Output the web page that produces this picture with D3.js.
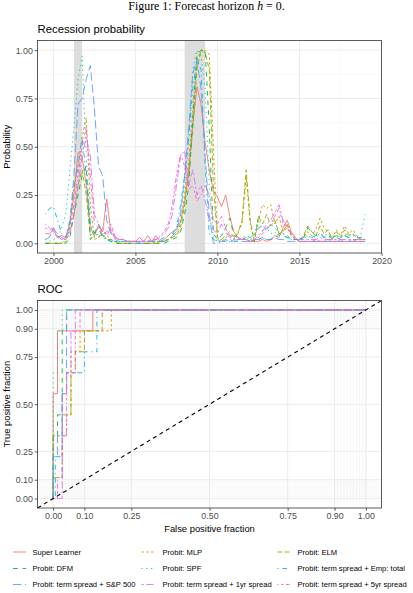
<!DOCTYPE html>
<html><head><meta charset="utf-8">
<script src="https://cdn.jsdelivr.net/npm/d3@7"></script>
<style>body{margin:0;background:#fff} svg{display:block}</style>
</head><body><svg id="c" width="413" height="593"></svg>
<script>
// ---------------- DATA ----------------
const quarters = [1999.50,1999.75,2000.00,2000.25,2000.50,2000.75,2001.00,2001.25,2001.50,2001.75,
2002.00,2002.25,2002.50,2002.75,2003.00,2003.25,2003.50,2003.75,2004.00,2004.25,
2004.50,2004.75,2005.00,2005.25,2005.50,2005.75,2006.00,2006.25,2006.50,2006.75,
2007.00,2007.25,2007.50,2007.75,2008.00,2008.25,2008.50,2008.75,2009.00,2009.25,
2009.50,2009.75,2010.00,2010.25,2010.50,2010.75,2011.00,2011.25,2011.50,2011.75,
2012.00,2012.25,2012.50,2012.75,2013.00,2013.25,2013.50,2013.75,2014.00,2014.25,
2014.50,2014.75,2015.00,2015.25,2015.50,2015.75,2016.00,2016.25,2016.50,2016.75,
2017.00,2017.25,2017.50,2017.75,2018.00,2018.25,2018.50,2018.75,2019.00];

const recessions = [[2001.25, 2001.75], [2008.0, 2009.25]];

const seriesNames = ["Super Learner","Probit: MLP","Probit: ELM","Probit: DFM","Probit: SPF",
  "Probit: term spread + Emp: total","Probit: term spread + S&P 500",
  "Probit: term spread + 1yr spread","Probit: term spread + 5yr spread"];

const probSuperLearner = [0.05,0.05,0.07,0.03,0.04,0.03,0.10,0.25,0.47,0.45,
0.30,0.08,0.04,0.09,0.06,0.23,0.06,0.03,0.02,0.02,
0.01,0.01,0.01,0.03,0.01,0.04,0.01,0.04,0.01,0.02,
0.04,0.06,0.07,0.11,0.22,0.38,0.62,0.81,0.72,0.52,
0.38,0.27,0.24,0.19,0.25,0.14,0.06,0.03,0.02,0.02,
0.01,0.01,0.01,0.02,0.01,0.02,0.04,0.03,0.08,0.12,
0.06,0.03,0.01,0.01,0.01,0.01,0.01,0.01,0.01,0.01,
0.01,0.01,0.01,0.01,0.01,0.01,0.01,0.01,0.01];
const probMLP = [0.00,0.00,0.00,0.00,0.00,0.01,0.08,0.28,0.40,0.55,
0.65,0.20,0.02,0.03,0.08,0.04,0.02,0.01,0.00,0.00,
0.00,0.00,0.00,0.00,0.00,0.00,0.00,0.00,0.01,0.01,
0.02,0.03,0.05,0.10,0.25,0.42,0.70,0.95,1.00,1.00,
0.98,0.50,0.02,0.01,0.03,0.04,0.02,0.06,0.10,0.34,
0.10,0.01,0.12,0.20,0.18,0.20,0.10,0.14,0.06,0.08,
0.04,0.02,0.01,0.03,0.06,0.04,0.07,0.13,0.08,0.06,
0.03,0.07,0.04,0.09,0.05,0.07,0.04,0.02,0.02];
const probELM = [0.00,0.00,0.00,0.00,0.00,0.02,0.05,0.15,0.30,0.38,
0.25,0.04,0.06,0.03,0.05,0.02,0.02,0.01,0.00,0.00,
0.00,0.00,0.00,0.00,0.00,0.00,0.00,0.01,0.01,0.01,
0.02,0.03,0.04,0.08,0.20,0.35,0.60,0.90,1.00,0.99,
0.90,0.30,0.03,0.02,0.04,0.06,0.03,0.05,0.12,0.38,
0.12,0.01,0.14,0.10,0.15,0.09,0.12,0.05,0.06,0.10,
0.05,0.02,0.02,0.04,0.09,0.06,0.04,0.09,0.05,0.07,
0.02,0.06,0.03,0.07,0.04,0.05,0.03,0.02,0.02];
const probDFM = [0.00,0.00,0.00,0.00,0.00,0.00,0.03,0.15,0.25,0.35,
0.40,0.02,0.05,0.10,0.04,0.02,0.01,0.00,0.00,0.00,
0.00,0.00,0.00,0.00,0.00,0.00,0.00,0.00,0.00,0.00,
0.01,0.02,0.03,0.06,0.15,0.30,0.65,0.98,1.00,1.00,
0.60,0.05,0.02,0.04,0.08,0.13,0.04,0.03,0.02,0.03,
0.02,0.01,0.02,0.03,0.02,0.02,0.03,0.05,0.04,0.03,
0.02,0.02,0.02,0.03,0.08,0.06,0.04,0.05,0.03,0.04,
0.02,0.03,0.02,0.04,0.03,0.02,0.02,0.02,0.02];
const probSPF = [0.02,0.01,0.02,0.03,0.08,0.15,0.37,0.60,0.85,0.97,
0.45,0.10,0.03,0.05,0.04,0.02,0.02,0.01,0.01,0.01,
0.01,0.01,0.01,0.01,0.01,0.01,0.01,0.01,0.01,0.02,
0.02,0.04,0.08,0.15,0.30,0.55,0.90,1.00,0.97,0.80,
0.30,0.03,0.01,0.02,0.01,0.01,0.01,0.02,0.02,0.03,
0.02,0.04,0.14,0.06,0.08,0.05,0.06,0.04,0.05,0.03,
0.02,0.02,0.02,0.03,0.03,0.04,0.03,0.05,0.04,0.05,
0.03,0.04,0.03,0.05,0.04,0.05,0.03,0.05,0.15];
const probEmpTotal = [0.15,0.18,0.19,0.12,0.05,0.03,0.12,0.30,0.40,0.55,
0.35,0.10,0.05,0.08,0.03,0.02,0.01,0.01,0.01,0.01,
0.01,0.01,0.01,0.01,0.01,0.01,0.01,0.02,0.02,0.03,
0.04,0.05,0.08,0.20,0.35,0.55,0.80,0.95,0.90,0.40,
0.05,0.02,0.01,0.01,0.02,0.01,0.01,0.02,0.03,0.04,
0.03,0.05,0.08,0.09,0.07,0.10,0.08,0.06,0.05,0.04,
0.02,0.02,0.02,0.03,0.04,0.03,0.04,0.05,0.03,0.04,
0.03,0.04,0.03,0.04,0.03,0.04,0.03,0.03,0.04];
const probSP500 = [0.02,0.03,0.08,0.04,0.02,0.03,0.10,0.35,0.72,0.75,
0.85,0.92,0.70,0.40,0.35,0.12,0.05,0.02,0.01,0.01,
0.01,0.01,0.00,0.00,0.00,0.01,0.01,0.01,0.01,0.01,
0.02,0.04,0.06,0.15,0.35,0.60,0.88,0.95,0.80,0.45,
0.15,0.00,0.00,0.01,0.01,0.02,0.01,0.01,0.01,0.01,
0.01,0.02,0.02,0.03,0.02,0.02,0.03,0.02,0.02,0.01,
0.01,0.01,0.01,0.01,0.01,0.01,0.01,0.01,0.01,0.01,
0.01,0.01,0.01,0.01,0.01,0.01,0.01,0.01,0.01];
const prob1yr = [0.08,0.07,0.08,0.05,0.03,0.02,0.05,0.15,0.30,0.45,
0.55,0.45,0.15,0.10,0.06,0.04,0.08,0.03,0.02,0.02,
0.01,0.01,0.01,0.01,0.01,0.01,0.01,0.02,0.03,0.05,
0.08,0.15,0.30,0.45,0.48,0.30,0.38,0.25,0.30,0.22,
0.12,0.07,0.05,0.10,0.06,0.03,0.02,0.02,0.02,0.02,
0.01,0.02,0.04,0.06,0.10,0.12,0.16,0.20,0.12,0.08,
0.05,0.02,0.02,0.02,0.02,0.02,0.02,0.03,0.02,0.02,
0.02,0.02,0.02,0.02,0.02,0.02,0.02,0.02,0.02];
const prob5yr = [0.10,0.08,0.06,0.03,0.02,0.02,0.08,0.20,0.35,0.50,
0.60,0.35,0.10,0.08,0.05,0.06,0.10,0.04,0.02,0.02,
0.01,0.01,0.01,0.01,0.01,0.01,0.02,0.02,0.04,0.06,
0.10,0.20,0.35,0.46,0.40,0.28,0.30,0.22,0.25,0.30,
0.25,0.12,0.10,0.14,0.08,0.04,0.03,0.02,0.02,0.02,
0.01,0.02,0.03,0.05,0.08,0.10,0.14,0.18,0.10,0.09,
0.04,0.02,0.01,0.01,0.01,0.01,0.02,0.01,0.01,0.02,
0.01,0.01,0.02,0.01,0.01,0.02,0.01,0.01,0.01];

// ROC curves: [false positive fraction, true positive fraction]
const rocSuperLearner = [[0,0],[0,0.556],[0.014,0.556],[0.014,0.889],[0.127,0.889],[0.127,1],[1,1]];
const rocMLP = [[0,0],[0,0.333],[0.043,0.333],[0.043,0.444],[0.057,0.444],[0.057,0.778],[0.086,0.778],[0.086,0.889],[0.186,0.889],[0.186,1],[1,1]];
const rocELM = [[0,0],[0,0.111],[0.029,0.111],[0.029,0.444],[0.057,0.444],[0.057,0.667],[0.071,0.667],[0.071,0.778],[0.1,0.778],[0.1,0.889],[0.157,0.889],[0.157,1],[1,1]];
const rocDFM = [[0,0],[0,0.333],[0.014,0.333],[0.014,0.444],[0.029,0.444],[0.029,0.889],[0.043,0.889],[0.043,1],[1,1]];
const rocSPF = [[0,0],[0,0.667],[0.014,0.667],[0.014,0.889],[0.029,0.889],[0.029,1],[1,1]];
const rocEmpTotal = [[0,0],[0.007,0],[0.007,0.222],[0.029,0.222],[0.029,0.556],[0.043,0.556],[0.043,0.667],[0.1,0.667],[0.1,0.778],[0.14,0.778],[0.14,1],[1,1]];
const rocSP500 = [[0,0],[0,0.222],[0.014,0.222],[0.014,0.333],[0.029,0.333],[0.029,0.556],[0.043,0.556],[0.043,1],[1,1]];
const roc1yr = [[0,0],[0.029,0],[0.029,0.556],[0.043,0.556],[0.043,0.667],[0.057,0.667],[0.057,0.889],[0.071,0.889],[0.071,1],[1,1]];
const roc5yr = [[0,0],[0.014,0],[0.014,0.111],[0.029,0.111],[0.029,0.333],[0.043,0.333],[0.043,0.667],[0.071,0.667],[0.071,0.889],[0.086,0.889],[0.086,1],[1,1]];

const probTicks = [0, 0.25, 0.5, 0.75, 1];
const yearTicks = [2000, 2005, 2010, 2015, 2020];
const rocTicks = [0, 0.1, 0.25, 0.5, 0.75, 0.9, 1];

// ---------------- STYLE ----------------
const colors = ["#F8766D","#D39200","#93AA00","#00BA38","#00C19F","#00B9E3","#619CFF","#DB72FB","#FF61C3"];
const U = 1.2;
const dashes = ["", [2,2],[4,2],[4,4],[1,3],[1,3,4,3],[7,3],[2,2,6,2],[1,2,2,2,3,2,4,2]]
  .map(d => d === "" ? null : d.map(v => v*U).join(","));
const probSeries = [probSuperLearner, probMLP, probELM, probDFM, probSPF, probEmpTotal, probSP500, prob1yr, prob5yr];
const rocSeries = [rocSuperLearner, rocMLP, rocELM, rocDFM, rocSPF, rocEmpTotal, rocSP500, roc1yr, roc5yr];

const svg = d3.select("#c");
svg.append("rect").attr("width",413).attr("height",593).attr("fill","#fff");
const FONT = "'Liberation Sans', Arial, Helvetica, sans-serif";
const LW = 0.9;

// caption
const cap = svg.append("text").attr("x",206.5).attr("y",10.4).attr("text-anchor","middle")
  .attr("font-family","'Liberation Serif','Times New Roman',serif").attr("font-size",11.9).attr("fill","#000");
cap.append("tspan").text("Figure 1: Forecast horizon ");
cap.append("tspan").attr("font-style","italic").text("h");
cap.append("tspan").text(" = 0.");

function styleAxis(g){
  g.select(".domain").remove();
  g.selectAll(".tick line").attr("stroke","#333").attr("stroke-width",0.8);
  g.selectAll(".tick text").attr("fill","#4D4D4D").attr("font-size",8.9).attr("font-family",FONT);
}

// ---------------- TOP PANEL ----------------
const P1 = {l:37.5, r:381.5, t:40.5, b:253};
const x1 = d3.scaleLinear().domain([1999.03, 2020]).range([P1.l, P1.r]);
const y1 = d3.scaleLinear().domain([-0.05, 1.05]).range([P1.b, P1.t]);

svg.append("text").attr("x",37.6).attr("y",33.3).attr("font-family",FONT).attr("font-size",11.3).text("Recession probability");

const g1 = svg.append("g");
[0.125,0.375,0.625,0.875].forEach(v => g1.append("line").attr("x1",P1.l).attr("x2",P1.r).attr("y1",y1(v)).attr("y2",y1(v)).attr("stroke","#F2F2F2").attr("stroke-width",0.5));
[2002.5,2007.5,2012.5,2017.5].forEach(v => g1.append("line").attr("y1",P1.t).attr("y2",P1.b).attr("x1",x1(v)).attr("x2",x1(v)).attr("stroke","#F2F2F2").attr("stroke-width",0.5));
probTicks.forEach(v => g1.append("line").attr("x1",P1.l).attr("x2",P1.r).attr("y1",y1(v)).attr("y2",y1(v)).attr("stroke","#EBEBEB").attr("stroke-width",1));
yearTicks.forEach(v => g1.append("line").attr("y1",P1.t).attr("y2",P1.b).attr("x1",x1(v)).attr("x2",x1(v)).attr("stroke","#EBEBEB").attr("stroke-width",1));

g1.selectAll("rect.rec").data(recessions).enter().append("rect")
  .attr("x", d => x1(d[0])).attr("width", d => x1(d[1]) - x1(d[0]))
  .attr("y", P1.t).attr("height", P1.b - P1.t).attr("fill","#D9D9D9").attr("opacity",0.9);

const line1 = d3.line().x((d,i) => x1(quarters[i])).y(d => y1(d));
probSeries.forEach((s,k) => {
  g1.append("path").datum(s).attr("d", line1).attr("fill","none")
    .attr("stroke", colors[k]).attr("stroke-width", LW)
    .attr("stroke-dasharray", dashes[k]);
});
svg.append("rect").attr("x",P1.l).attr("y",P1.t).attr("width",P1.r-P1.l).attr("height",P1.b-P1.t)
  .attr("fill","none").attr("stroke","#333").attr("stroke-width",0.8);

const ax1 = svg.append("g").attr("transform",`translate(${P1.l},0)`)
  .call(d3.axisLeft(y1).tickValues(probTicks).tickFormat(d3.format(".2f")).tickSize(2.8).tickPadding(1.8));
styleAxis(ax1);
const bx1 = svg.append("g").attr("transform",`translate(0,${P1.b})`)
  .call(d3.axisBottom(x1).tickValues(yearTicks).tickFormat(d3.format("d")).tickSize(2.8).tickPadding(1.5));
styleAxis(bx1);
svg.append("text").attr("transform",`translate(9.6,${(P1.t+P1.b)/2}) rotate(-90)`).attr("text-anchor","middle")
  .attr("font-family",FONT).attr("font-size",9.4).text("Probability");

// ---------------- ROC PANEL ----------------
const P2 = {l:37.5, r:381.5, t:300.5, b:508};
const x2 = d3.scaleLinear().domain([-0.05, 1.05]).range([P2.l, P2.r]);
const y2 = d3.scaleLinear().domain([-0.05, 1.05]).range([P2.b, P2.t]);

svg.append("text").attr("x",37.6).attr("y",292.7).attr("font-family",FONT).attr("font-size",11.3).text("ROC");

const g2 = svg.append("g");
const minorRoc = d3.range(0, 11).map(i => i/100).concat(d3.range(90, 101).map(i => i/100));
minorRoc.forEach(v => {
  g2.append("line").attr("x1",P2.l).attr("x2",P2.r).attr("y1",y2(v)).attr("y2",y2(v)).attr("stroke","#EFEFEF").attr("stroke-width",0.5);
  g2.append("line").attr("y1",P2.t).attr("y2",P2.b).attr("x1",x2(v)).attr("x2",x2(v)).attr("stroke","#EFEFEF").attr("stroke-width",0.5);
});
rocTicks.forEach(v => {
  g2.append("line").attr("x1",P2.l).attr("x2",P2.r).attr("y1",y2(v)).attr("y2",y2(v)).attr("stroke","#EBEBEB").attr("stroke-width",1);
  g2.append("line").attr("y1",P2.t).attr("y2",P2.b).attr("x1",x2(v)).attr("x2",x2(v)).attr("stroke","#EBEBEB").attr("stroke-width",1);
});

const line2 = d3.line().x(d => x2(d[0])).y(d => y2(d[1]));
rocSeries.forEach((s,k) => {
  g2.append("path").datum(s).attr("d", line2).attr("fill","none")
    .attr("stroke", colors[k]).attr("stroke-width", LW)
    .attr("stroke-dasharray", dashes[k]);
});
svg.append("clipPath").attr("id","clip2").append("rect")
  .attr("x",P2.l).attr("y",P2.t).attr("width",P2.r-P2.l).attr("height",P2.b-P2.t);
g2.append("line").attr("clip-path","url(#clip2)")
  .attr("x1",x2(-0.05)).attr("y1",y2(-0.05)).attr("x2",x2(1.05)).attr("y2",y2(1.05))
  .attr("stroke","#000").attr("stroke-width",1.1).attr("stroke-dasharray","4,3.5");
svg.append("rect").attr("x",P2.l).attr("y",P2.t).attr("width",P2.r-P2.l).attr("height",P2.b-P2.t)
  .attr("fill","none").attr("stroke","#333").attr("stroke-width",0.8);

const ax2 = svg.append("g").attr("transform",`translate(${P2.l},0)`)
  .call(d3.axisLeft(y2).tickValues(rocTicks).tickFormat(d3.format(".2f")).tickSize(2.8).tickPadding(1.8));
styleAxis(ax2);
const bx2 = svg.append("g").attr("transform",`translate(0,${P2.b})`)
  .call(d3.axisBottom(x2).tickValues(rocTicks).tickFormat(d3.format(".2f")).tickSize(2.8).tickPadding(1.5));
styleAxis(bx2);
svg.append("text").attr("transform",`translate(9.6,${(P2.t+P2.b)/2}) rotate(-90)`).attr("text-anchor","middle")
  .attr("font-family",FONT).attr("font-size",9.4).text("True positive fraction");
svg.append("text").attr("x",(P2.l+P2.r)/2).attr("y",531.5).attr("text-anchor","middle")
  .attr("font-family",FONT).attr("font-size",9.4).text("False positive fraction");

// ---------------- LEGEND ----------------
const colKeyX = [13, 141.5, 277.5];
const colTextX = [32.5, 162.5, 297.5];
const rowY = [552, 568.5, 584.5];
seriesNames.forEach((name,k) => {
  const c = k % 3, r = Math.floor(k / 3);
  svg.append("line").attr("x1",colKeyX[c]).attr("x2",colKeyX[c]+13).attr("y1",rowY[r]).attr("y2",rowY[r])
    .attr("stroke",colors[k]).attr("stroke-width",LW).attr("stroke-dasharray",dashes[k]);
  svg.append("text").attr("x",colTextX[c]).attr("y",rowY[r]+2.7).attr("font-family",FONT)
    .attr("font-size",7.6).attr("fill","#000").text(name);
});
</script></body></html>
